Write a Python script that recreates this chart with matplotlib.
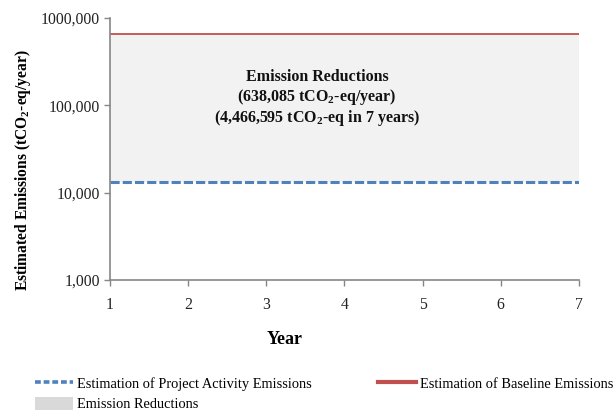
import numpy as np
import matplotlib.pyplot as plt
from matplotlib.patches import Patch
from matplotlib.lines import Line2D

plt.rcParams['font.family'] = 'Liberation Serif'
plt.rcParams['mathtext.fontset'] = 'custom'
plt.rcParams['mathtext.rm'] = 'Liberation Serif'
plt.rcParams['mathtext.bf'] = 'Liberation Serif:bold'

years = [1, 2, 3, 4, 5, 6, 7]
project_emissions = [13370] * 7
baseline_emissions = [651455] * 7
annual_reduction = 638085
total_reduction = 4466595

y_ticks = [1000, 10000, 100000, 1000000]
y_tick_labels = ['1,000', '10,000', '100,000', '1000,000']

fig = plt.figure(figsize=(6.15, 4.12), dpi=100)
ax = fig.add_axes([0.179, 0.3204, 0.762, 0.6356])

ax.fill_between(years, project_emissions, baseline_emissions, color='#f2f2f2', lw=0)
ax.plot(years, project_emissions, color='#4f81bd', lw=2.2, ls=(0, (3.0, 1.0)))
ax.plot(years, baseline_emissions, color='#c0504d', lw=1.3)

ax.set_yscale('log')
ax.set_ylim(1000, 1000000)
ax.set_xlim(1, 7)
ax.set_yticks(y_ticks)
ax.set_yticklabels(y_tick_labels)
ax.yaxis.set_minor_locator(plt.NullLocator())
ax.set_xticks(years)

for s in ['top', 'right']:
    ax.spines[s].set_visible(False)
for s in ['left', 'bottom']:
    ax.spines[s].set_color('#868686')
    ax.spines[s].set_linewidth(1.2)
ax.tick_params(axis='both', colors='#868686', labelcolor='#222222', labelsize=11.3,
               length=4, width=1)
ax.tick_params(axis='x', pad=8)

ax.set_xlabel('Year', fontsize=13, fontweight='bold')
ax.xaxis.set_label_coords(0.373, -0.195)
ax.set_ylabel(r'Estimated Emissions (tCO$_\mathbf{2}$-eq/year)', fontsize=11.2,
              fontweight='bold')
ax.yaxis.set_label_coords(-0.164, 0.42)

label = ('Emission Reductions\n'
         '({:,} tCO$_\\mathbf{{2}}$-eq/year)\n'
         '({:,} tCO$_\\mathbf{{2}}$-eq in 7 years)').format(annual_reduction, total_reduction)
ax.text(3.65, 120000, label, ha='center', va='center', fontsize=11.5,
        fontweight='bold', linespacing=1.1, color='#111111')

handles = [
    Line2D([], [], color='#4f81bd', lw=2.6, ls=(0, (1.6, 0.8))),
    Patch(facecolor='#d9d9d9', edgecolor='none'),
    Line2D([], [], color='#c0504d', lw=3.0),
]
labels = ['Estimation of Project Activity Emissions', 'Emission Reductions',
          'Estimation of Baseline Emissions']
fig.legend(handles, labels, loc='upper left', bbox_to_anchor=(0.057, 0.087), ncol=2,
           frameon=False, fontsize=10.4, columnspacing=4.6, handlelength=2.6,
           handleheight=1.0, handletextpad=0.3, labelspacing=0.45,
           borderpad=0, borderaxespad=0)

plt.savefig('out.png', dpi=100)
